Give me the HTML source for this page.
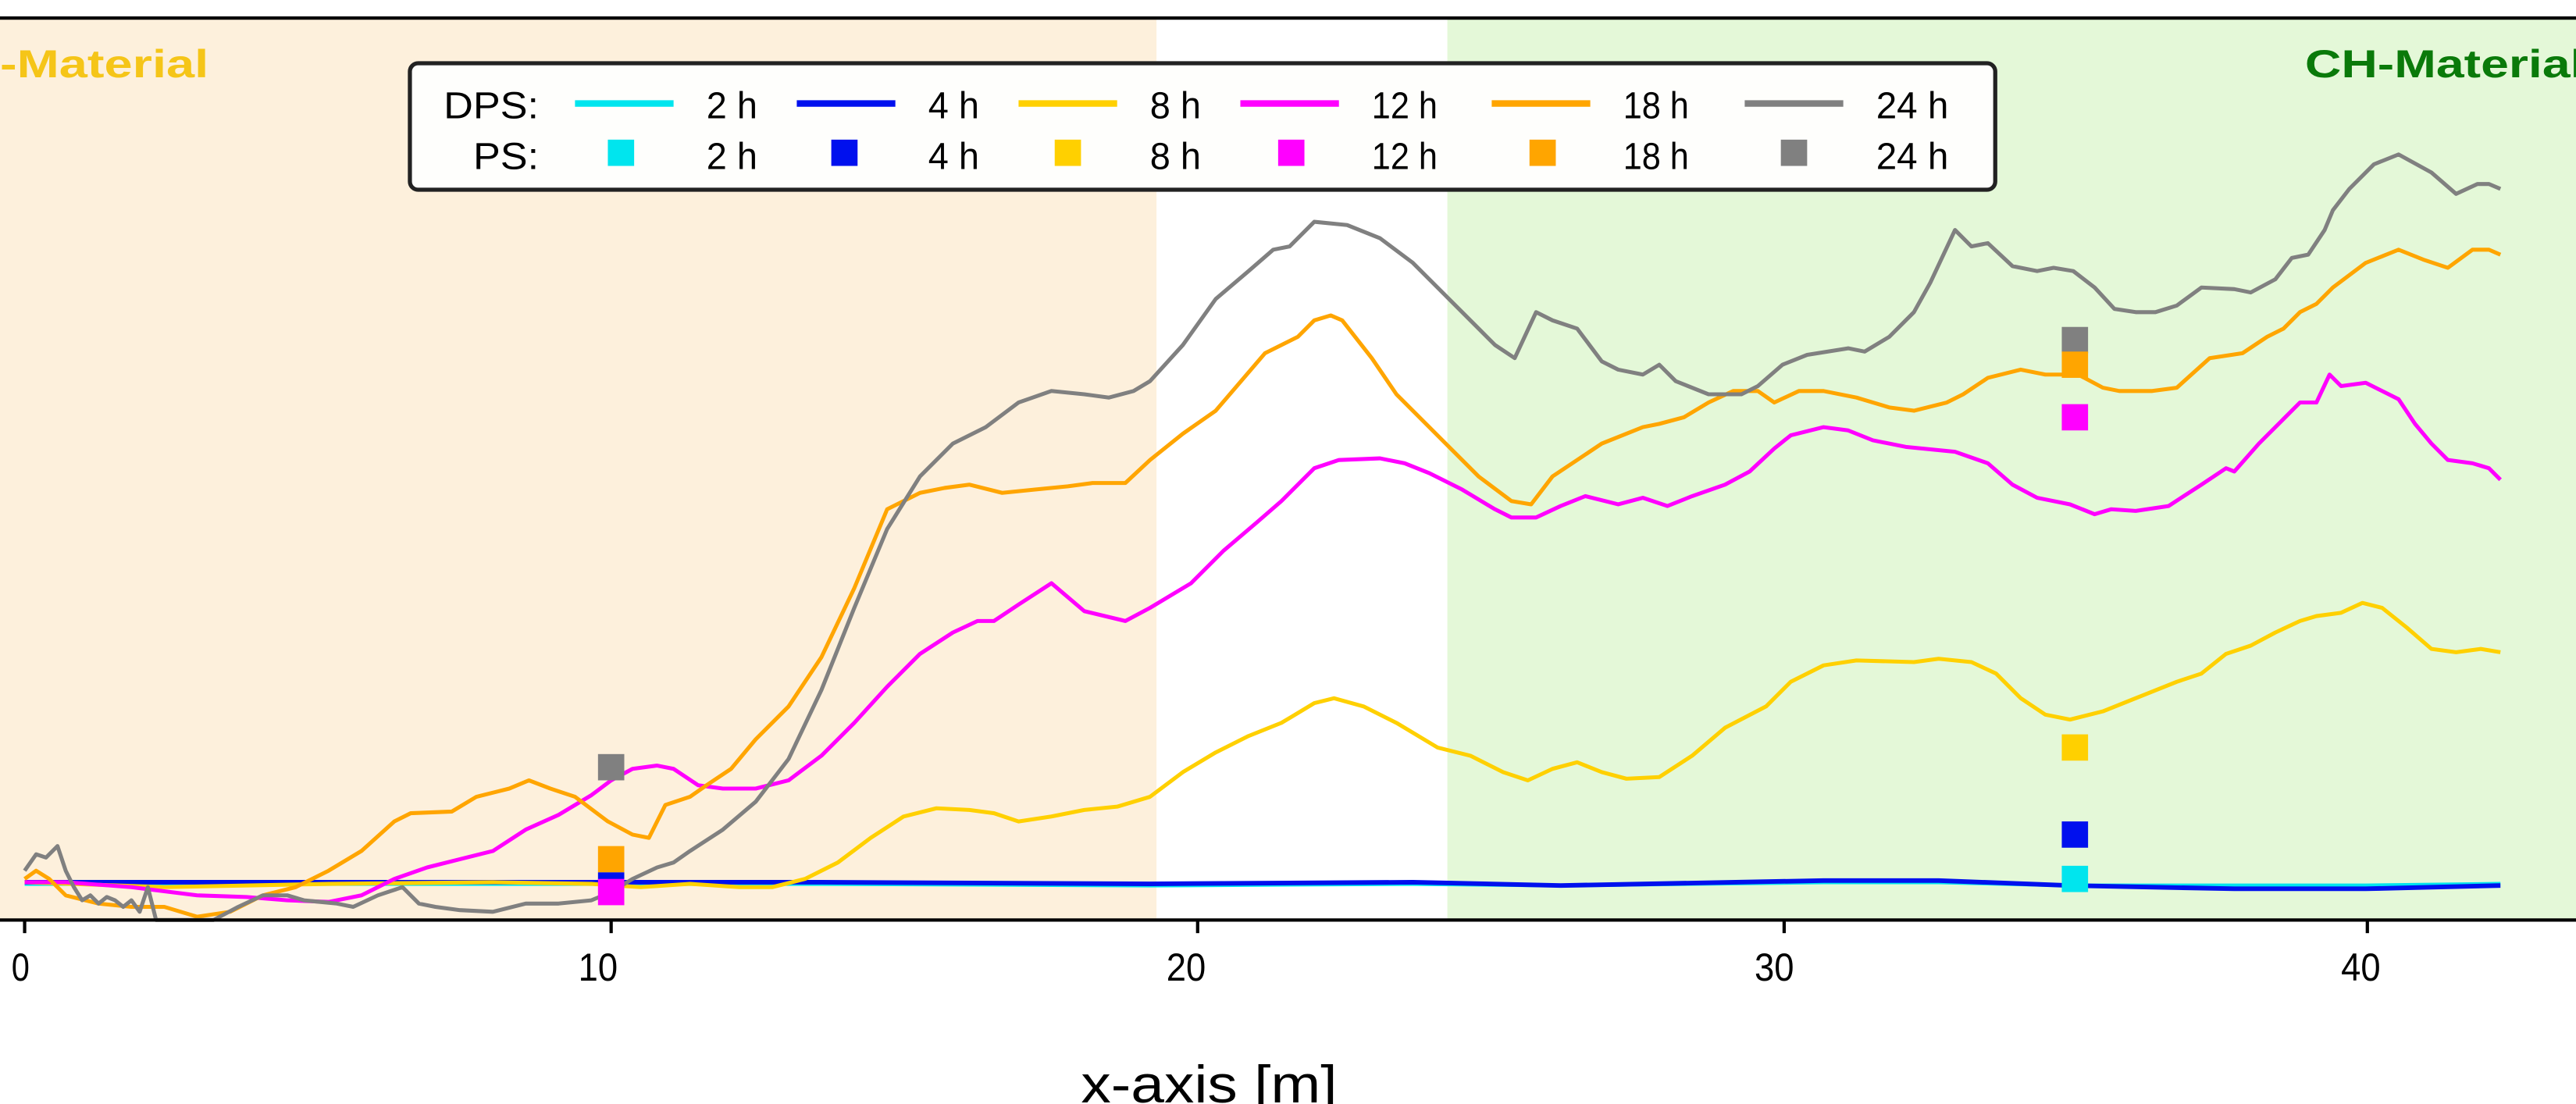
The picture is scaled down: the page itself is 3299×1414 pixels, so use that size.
<!DOCTYPE html>
<html><head><meta charset="utf-8"><style>html,body{margin:0;padding:0;background:#fff}svg{display:block}</style></head>
<body>
<svg width="3299" height="1414" viewBox="0 0 1568 672" preserveAspectRatio="none" xmlns="http://www.w3.org/2000/svg" font-family="Liberation Sans, DejaVu Sans, sans-serif">
<rect x="0" y="11" width="704" height="549" fill="#fdf0dc"/>
<rect x="704" y="11" width="177" height="549" fill="#ffffff"/>
<rect x="881" y="11" width="687" height="549" fill="#e4f8d8"/>
<text x="0" y="47" font-size="24" font-weight="bold" fill="#f5c518" textLength="127" lengthAdjust="spacingAndGlyphs">-Material</text>
<text x="1403" y="47" font-size="24" font-weight="bold" fill="#0a7a0a" textLength="170" lengthAdjust="spacingAndGlyphs">CH-Material</text>
<g fill="none" stroke-width="2.4" stroke-linejoin="round">
<polyline stroke="#00e5ee" points="15,538 300,538 500,538 700,539 860,538 950,539 1110,537 1180,537 1260,539 1360,539 1440,539 1522,538"/>
<polyline stroke="#0010ee" stroke-width="2.8" points="15,537 300,537 500,537 700,538 860,537 950,539 1110,536 1180,536 1260,539 1360,541 1440,541 1522,539"/>
<polyline stroke="#ffd000" points="15,537 100,540 200,538 300,537 360,538 390,540 420,538 450,540 470,540 490,535 510,525 530,510 550,497 570,492 590,493 605,495 620,500 640,497 660,493 680,491 700,485 720,470 740,458 760,448 780,440 800,428 812,425 830,430 850,440 875,455 895,460 915,470 930,475 945,468 960,464 975,470 990,474 1010,473 1030,460 1050,443 1075,430 1090,415 1110,405 1130,402 1165,403 1180,401 1200,403 1215,410 1230,425 1245,435 1260,438 1280,433 1300,425 1325,415 1340,410 1355,398 1370,393 1385,385 1400,378 1410,375 1425,373 1438,367 1450,370 1465,382 1480,395 1495,397 1510,395 1522,397"/>
<polyline stroke="#ff00ff" points="15,537 40,537 80,540 120,545 150,546 175,548 200,549 220,545 240,535 260,528 280,523 300,518 320,505 340,496 360,484 372,475 385,468 400,466 410,468 425,478 440,480 460,480 480,475 500,460 520,440 540,418 560,398 580,385 595,378 605,378 620,368 640,355 660,372 685,378 700,370 725,355 745,335 765,318 780,305 800,285 815,280 840,279 855,282 870,288 890,298 910,310 920,315 935,315 950,308 965,302 985,307 1000,303 1015,308 1030,302 1050,295 1065,287 1080,273 1090,265 1110,260 1125,262 1140,268 1160,272 1190,275 1210,282 1225,295 1240,303 1260,307 1275,313 1285,310 1300,311 1320,308 1340,295 1355,285 1360,287 1375,270 1390,255 1400,245 1410,245 1418,228 1425,235 1440,233 1460,243 1470,258 1480,270 1490,280 1505,282 1515,285 1522,292"/>
<polyline stroke="#ffa500" points="15,535 22,530 30,535 40,545 60,550 80,552 100,552 120,558 140,555 160,545 180,540 200,530 220,518 240,500 250,495 275,494 290,485 310,480 322,475 335,480 350,485 370,500 385,508 395,510 405,490 420,485 430,478 445,468 460,450 480,430 500,400 520,358 540,310 560,300 575,297 590,295 610,300 630,298 650,296 665,294 685,294 700,280 720,264 740,250 770,215 790,205 800,195 810,192 817,195 835,218 850,240 880,270 900,290 920,305 932,307 945,290 960,280 975,270 1000,260 1010,258 1025,254 1040,245 1055,238 1070,238 1080,245 1095,238 1110,238 1130,242 1150,248 1165,250 1185,245 1195,240 1210,230 1230,225 1245,228 1265,228 1280,236 1290,238 1310,238 1325,236 1345,218 1365,215 1380,205 1390,200 1400,190 1410,185 1420,175 1440,160 1460,152 1475,158 1490,163 1505,152 1515,152 1522,155"/>
<polyline stroke="#808080" points="15,530 22,520 28,522 35,515 40,530 45,540 50,548 55,545 60,550 65,546 70,548 75,552 80,548 85,555 90,540 95,560 130,560 145,552 160,545 175,545 185,548 195,549 205,550 215,552 230,545 245,540 255,550 265,552 280,554 300,555 320,550 340,550 360,548 372,543 385,535 400,528 410,525 420,518 440,505 460,488 480,462 500,420 520,370 540,322 560,290 580,270 600,260 620,245 640,238 660,240 675,242 690,238 700,232 720,210 740,182 760,165 775,152 785,150 800,135 820,137 840,145 860,160 880,180 900,200 910,210 922,218 935,190 945,195 960,200 975,220 985,225 1000,228 1010,222 1020,232 1040,240 1060,240 1070,235 1085,222 1100,216 1125,212 1135,214 1150,205 1165,190 1175,172 1190,140 1200,150 1210,148 1225,162 1240,165 1250,163 1262,165 1275,175 1287,188 1300,190 1312,190 1325,186 1340,175 1360,176 1370,178 1385,170 1395,157 1405,155 1415,140 1420,128 1430,115 1445,100 1460,94 1480,105 1495,118 1508,112 1515,112 1522,115"/>
</g>
<g>
<rect x="364" y="459" width="16" height="16" fill="#808080"/>
<rect x="364" y="515" width="16" height="16" fill="#ffa500"/>
<rect x="364" y="531" width="16" height="6" fill="#0010ee"/>
<rect x="364" y="535" width="16" height="16" fill="#ff00ff"/>
<rect x="1255" y="199" width="16" height="16" fill="#808080"/>
<rect x="1255" y="214" width="16" height="16" fill="#ffa500"/>
<rect x="1255" y="246" width="16" height="16" fill="#ff00ff"/>
<rect x="1255" y="447" width="16" height="16" fill="#ffd000"/>
<rect x="1255" y="500" width="16" height="16" fill="#0010ee"/>
<rect x="1255" y="527" width="16" height="16" fill="#00e5ee"/>
</g>
<line x1="0" y1="11" x2="1568" y2="11" stroke="#000" stroke-width="2"/>
<line x1="0" y1="560" x2="1568" y2="560" stroke="#000" stroke-width="2"/>
<g stroke="#000" stroke-width="2">
<line x1="15" y1="560" x2="15" y2="568"/><line x1="372" y1="560" x2="372" y2="568"/><line x1="729" y1="560" x2="729" y2="568"/><line x1="1086" y1="560" x2="1086" y2="568"/><line x1="1441" y1="560" x2="1441" y2="568"/>
</g>
<g font-size="24" fill="#000">
<text x="7" y="597" textLength="11" lengthAdjust="spacingAndGlyphs">0</text>
<text x="352" y="597" textLength="24" lengthAdjust="spacingAndGlyphs">10</text>
<text x="710" y="597" textLength="24" lengthAdjust="spacingAndGlyphs">20</text>
<text x="1068" y="597" textLength="24" lengthAdjust="spacingAndGlyphs">30</text>
<text x="1425" y="597" textLength="24" lengthAdjust="spacingAndGlyphs">40</text>
</g>
<text x="736" y="671" font-size="32" text-anchor="middle" textLength="156" lengthAdjust="spacingAndGlyphs">x-axis [m]</text>
<rect x="249.5" y="38.5" width="965" height="77" rx="5" fill="#fefefc" stroke="#222" stroke-width="2.5"/>
<g font-size="23" fill="#000">
<text x="270" y="72" textLength="58" lengthAdjust="spacingAndGlyphs">DPS:</text>
<text x="288" y="103" textLength="40" lengthAdjust="spacingAndGlyphs">PS:</text>
<text x="430" y="72" textLength="31" lengthAdjust="spacingAndGlyphs">2 h</text><text x="565" y="72" textLength="31" lengthAdjust="spacingAndGlyphs">4 h</text><text x="700" y="72" textLength="31" lengthAdjust="spacingAndGlyphs">8 h</text><text x="835" y="72" textLength="40" lengthAdjust="spacingAndGlyphs">12 h</text><text x="988" y="72" textLength="40" lengthAdjust="spacingAndGlyphs">18 h</text><text x="1142" y="72" textLength="44" lengthAdjust="spacingAndGlyphs">24 h</text>
<text x="430" y="103" textLength="31" lengthAdjust="spacingAndGlyphs">2 h</text><text x="565" y="103" textLength="31" lengthAdjust="spacingAndGlyphs">4 h</text><text x="700" y="103" textLength="31" lengthAdjust="spacingAndGlyphs">8 h</text><text x="835" y="103" textLength="40" lengthAdjust="spacingAndGlyphs">12 h</text><text x="988" y="103" textLength="40" lengthAdjust="spacingAndGlyphs">18 h</text><text x="1142" y="103" textLength="44" lengthAdjust="spacingAndGlyphs">24 h</text>
</g>
<g stroke-width="4">
<line x1="350" y1="63" x2="410" y2="63" stroke="#00e5ee"/><line x1="485" y1="63" x2="545" y2="63" stroke="#0010ee"/><line x1="620" y1="63" x2="680" y2="63" stroke="#ffd000"/><line x1="755" y1="63" x2="815" y2="63" stroke="#ff00ff"/><line x1="908" y1="63" x2="968" y2="63" stroke="#ffa500"/><line x1="1062" y1="63" x2="1122" y2="63" stroke="#808080"/>
</g>
<g>
<rect x="370" y="85" width="16" height="16" fill="#00e5ee"/><rect x="506" y="85" width="16" height="16" fill="#0010ee"/><rect x="642" y="85" width="16" height="16" fill="#ffd000"/><rect x="778" y="85" width="16" height="16" fill="#ff00ff"/><rect x="931" y="85" width="16" height="16" fill="#ffa500"/><rect x="1084" y="85" width="16" height="16" fill="#808080"/>
</g>
</svg>
</body></html>
